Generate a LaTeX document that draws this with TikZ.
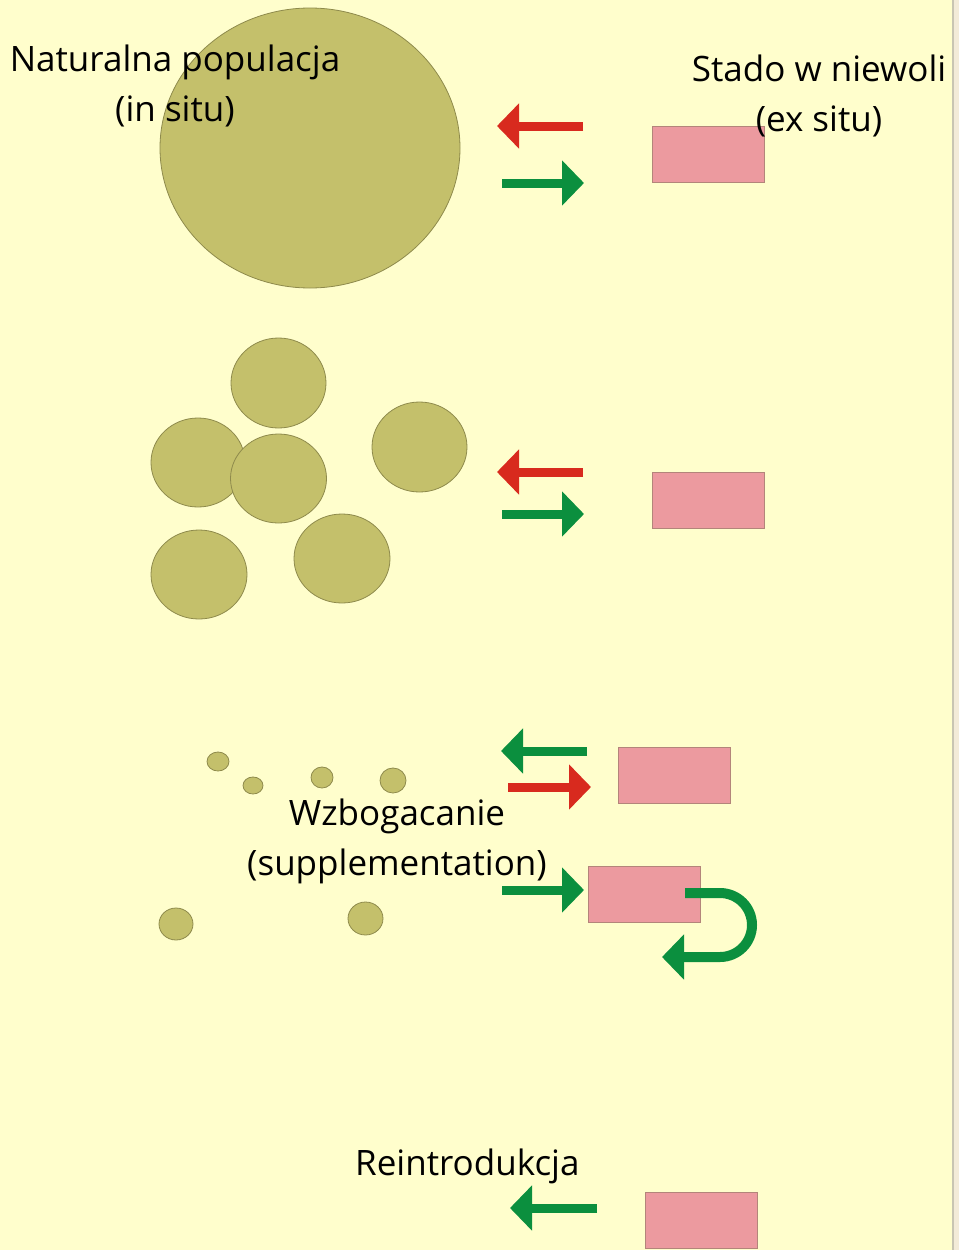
\documentclass[tikz,border=0pt]{standalone}
\usepackage{fontspec}
\setmainfont{Open Sans}
\usetikzlibrary{arrows.meta}
\definecolor{paper}{HTML}{FFFECC}
\definecolor{olive}{HTML}{C4C06B}
\definecolor{olivedark}{HTML}{8E8A4C}
\definecolor{pinkbox}{HTML}{EC9A9F}
\definecolor{pinkedge}{HTML}{B3857A}
\definecolor{arrred}{HTML}{D82A1E}
\definecolor{arrgreen}{HTML}{0B8F3E}
\definecolor{edgegray}{HTML}{C9C5B2}
\definecolor{edgestrip}{HTML}{F3EBD8}
\tikzset{
  pop/.style={fill=olive, draw=olivedark, line width=0.8pt},
  herd/.style={fill=pinkbox, draw=pinkedge, line width=0.8pt},
  blockarrow/.style={line width=9pt, -{Triangle[width=44pt,length=22pt]}},
  redarrow/.style={blockarrow, draw=arrred},
  greenarrow/.style={blockarrow, draw=arrgreen},
  label/.style={font=\fontsize{35}{50}\selectfont, align=center, inner sep=0pt}
}
\begin{document}
\begin{tikzpicture}[x=1pt,y=-1pt]
  % page background and slide edge
  \fill[paper] (0,0) rectangle (959,1250);
  \useasboundingbox (0,0) rectangle (959,1250);
  \fill[edgegray] (951.5,0) rectangle (954,1250);
  \fill[edgestrip] (954,0) rectangle (959,1250);

  % --- one large natural population ---
  \draw[pop] (310,148) ellipse [x radius=150, y radius=140];
  \draw[herd] (652,126) rectangle (764,182);
  \node[label] (insitu) at (175,86) {Naturalna populacja\\(in situ)};
  \node[label] (exsitu) at (819,96) {Stado w niewoli\\(ex situ)};
  \coordinate (r1s) at (583,126); \coordinate (r1t) at (497,126);
  \coordinate (g1s) at (502,183); \coordinate (g1t) at (584,183);
  \draw[redarrow] (r1s) -- (r1t);
  \draw[greenarrow] (g1s) -- (g1t);

  % --- fragmented population ---
  \draw[pop] (278.5,383) ellipse [x radius=47.5, y radius=45];
  \draw[pop] (198,462.5) ellipse [x radius=47, y radius=44.5];
  \draw[pop] (278.5,478.5) ellipse [x radius=48, y radius=44.5];
  \draw[pop] (419.5,447) ellipse [x radius=47.5, y radius=45];
  \draw[pop] (199,574.5) ellipse [x radius=48, y radius=44.5];
  \draw[pop] (342,558.5) ellipse [x radius=48, y radius=44.5];
  \draw[herd] (652,472) rectangle (764,528);
  \coordinate (r2s) at (583,472); \coordinate (r2t) at (497,472);
  \coordinate (g2s) at (502,514); \coordinate (g2t) at (584,514);
  \draw[redarrow] (r2s) -- (r2t);
  \draw[greenarrow] (g2s) -- (g2t);

  % --- supplementation ---
  \draw[pop] (218,761.5) ellipse [x radius=11, y radius=9.5];
  \draw[pop] (253,785.5) ellipse [x radius=10, y radius=8.5];
  \draw[pop] (322,777.5) ellipse [x radius=11, y radius=10.5];
  \draw[pop] (393,780.5) ellipse [x radius=13, y radius=12.5];
  \draw[pop] (176,924) ellipse [x radius=17, y radius=16];
  \draw[pop] (365.5,918.5) ellipse [x radius=17.5, y radius=16.5];
  \node[label] (suppl) at (397,841) {Wzbogacanie\\(supplementation)};
  \draw[herd] (618,747) rectangle (730,803);
  \draw[herd] (588,866) rectangle (700,922);
  \coordinate (g3s) at (587,751); \coordinate (g3t) at (501,751);
  \coordinate (r3s) at (508,787); \coordinate (r3t) at (591,787);
  \coordinate (g4s) at (502,890); \coordinate (g4t) at (584,890);
  \draw[greenarrow] (g3s) -- (g3t);
  \draw[redarrow] (r3s) -- (r3t);
  \draw[greenarrow] (g4s) -- (g4t);
  % captive-bred animals turned back
  \coordinate (us) at (685,893);
  \coordinate (ut) at (662,957);
  \draw[greenarrow, line width=10pt] (us) -- (720,893) arc [start angle=-90, end angle=90, radius=32] -- (ut);

  % --- reintroduction ---
  \begin{scope}
    \clip (0,1100) rectangle (579,1200);
    \node[label, anchor=west] (reintro) at (355,1166) {Reintrodukcja};
  \end{scope}
  \draw[herd] (645,1192) rectangle (757,1248);
  \coordinate (g5s) at (597,1208); \coordinate (g5t) at (510,1208);
  \draw[greenarrow] (g5s) -- (g5t);
\end{tikzpicture}
\end{document}
